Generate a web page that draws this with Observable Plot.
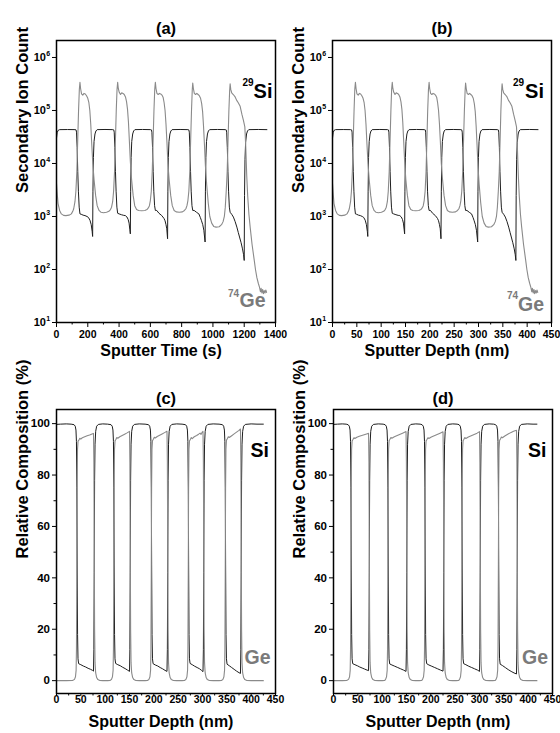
<!DOCTYPE html>
<html><head><meta charset="utf-8">
<script src="https://cdn.jsdelivr.net/npm/d3@7"></script>
<script src="https://cdn.jsdelivr.net/npm/@observablehq/plot@0.6"></script>
<style>
body{margin:0;background:#fff;}
#wrap{position:relative;width:560px;height:733px;overflow:hidden;background:#fff;}
#wrap svg{position:absolute;}
</style></head><body><div id="wrap"></div>
<script>
// ---------- Panel (a)/(b): SIMS raw counts (same counts, time axis and depth axis) ----------
const siTime = [0,4,10,20,70,118,125,128,132,136,140,145,150,158,170,182,195,204,214,222,228,231,233,236,240,246,252,260,310,360,
  366,369,373,377,381,386,391,400,415,430,440,450,458,464,469,472,474,477,481,487,493,501,550,601,
  607,610,614,618,622,627,632,641,655,673,687,694,700,705,710,712,715,719,725,731,739,790,840,
  846,849,853,857,861,866,871,880,895,910,920,927,935,942,950,952,955,959,965,971,979,1030,1079,
  1085,1088,1092,1096,1100,1105,1110,1120,1131,1142,1153,1162,1170,1180,1189,1196,1200,1202,1205,1209,1215,1221,1229,1290,1345];
const siDepth = [0,1.3,3.1,6.3,22.0,37.1,39.3,40.2,41.4,42.7,44.0,45.5,47.1,49.6,53.4,57.1,61.2,64.1,67.2,69.7,71.6,72.5,73.2,74.1,75.4,77.2,79.1,81.6,97.3,113.0,
  114.9,115.9,117.1,118.4,119.6,121.2,122.8,125.6,130.3,135.0,138.2,141.3,143.8,145.7,147.3,148.2,148.8,149.8,151.0,152.9,154.8,157.3,172.7,188.7,
  190.6,191.5,192.8,194.1,195.3,196.9,198.5,201.3,205.7,211.3,215.7,217.9,219.8,221.4,222.9,223.6,224.5,225.8,227.7,229.5,232.1,248.1,263.8,
  265.6,266.6,267.8,269.1,270.4,271.9,273.5,276.3,281.0,285.7,288.9,291.1,293.6,295.8,298.3,298.9,299.9,301.1,303.0,304.9,307.4,323.4,338.8,
  340.7,341.6,342.9,344.1,345.4,347.0,348.5,351.7,355.1,358.6,362.0,364.9,367.4,370.5,373.4,375.5,376.8,377.4,378.4,379.6,381.5,383.4,385.9,405.1,422.3];
const siCount = [3.0e4,3.8e4,4.2e4,4.35e4,4.37e4,4.35e4,4.3e4,3.9e4,2.0e4,7.0e3,3.0e3,1.5e3,1.12e3,1.1e3,1.06e3,1.04e3,1.0e3,960,850,700,520,420,3.0e3,1.3e4,2.6e4,3.6e4,4.1e4,4.35e4,4.38e4,4.35e4,
  4.3e4,3.9e4,2.0e4,7.0e3,3.0e3,1.5e3,1.15e3,1.12e3,1.08e3,1.05e3,1.04e3,980,880,750,560,470,3.0e3,1.3e4,2.6e4,3.6e4,4.1e4,4.35e4,4.38e4,4.35e4,
  4.3e4,3.9e4,2.0e4,7.0e3,3.0e3,1.6e3,1.3e3,1.3e3,1.15e3,1.04e3,920,830,700,585,380,3.0e3,1.3e4,2.6e4,3.6e4,4.1e4,4.35e4,4.38e4,4.35e4,
  4.3e4,3.9e4,2.0e4,7.0e3,3.0e3,1.6e3,1.3e3,1.3e3,1.2e3,1.12e3,950,830,700,550,330,3.0e3,1.3e4,2.6e4,3.6e4,4.1e4,4.35e4,4.38e4,4.35e4,
  4.3e4,3.9e4,2.0e4,7.0e3,3.0e3,1.5e3,1.2e3,1.1e3,975,800,630,500,410,320,245,190,148,2.5e3,1.2e4,2.5e4,3.6e4,4.1e4,4.35e4,4.38e4,4.35e4];

const geTime = [0,5,10,20,31,45,60,80,95,104,110,118,124,130,136,141,146,150,
  154,160,168,176,184,192,200,207,213,219,225,232,240,250,260,272,285,300,320,335,345,352,359,365,371,377,382,387,391,
  395,401,409,417,425,433,441,448,454,460,466,472,480,490,500,512,525,545,565,578,587,594,600,606,612,618,623,628,632,
  636,642,650,658,666,674,682,688,694,700,706,712,720,730,740,752,765,785,805,818,827,834,840,846,852,858,863,868,871,
  875,881,889,897,905,913,921,928,934,940,946,952,960,970,980,992,1005,1020,1040,1055,1065,1073,1079,1085,1091,1097,1102,1107,1110,
  1114,1120,1130,1142,1152,1162,1174,1185,1195,1204,1210,1216,1222,1230,1238,1250,1264,1272,1281,1290,1298,1304,1308,1313,1318,1323,1328,1333,1338,1343];
const geDepth = [0,1.6,3.1,6.3,9.7,14.1,18.8,25.1,29.8,32.7,34.5,37.1,38.9,40.8,42.7,44.3,45.8,47.1,
  48.4,50.2,52.8,55.3,57.8,60.3,62.8,65.0,66.9,68.8,70.7,72.9,75.4,78.5,81.6,85.4,89.5,94.2,100.5,105.2,108.3,110.5,112.7,114.6,116.5,118.4,120.0,121.5,122.8,
  124.0,125.9,128.4,130.9,133.5,136.0,138.5,140.7,142.6,144.4,146.3,148.2,150.7,153.9,157.0,160.8,164.9,171.1,177.4,181.5,184.3,186.5,188.4,190.3,192.2,194.1,195.6,197.2,198.5,
  199.7,201.6,204.1,206.6,209.1,211.6,214.2,216.0,217.9,219.8,221.7,223.6,226.1,229.2,232.4,236.1,240.2,246.5,252.8,256.9,259.7,261.9,263.8,265.6,267.5,269.4,271.0,272.6,273.5,
  274.8,276.6,279.2,281.7,284.2,286.7,289.2,291.4,293.3,295.2,297.0,298.9,301.4,304.6,307.7,311.5,315.6,320.3,326.6,331.3,334.4,336.9,338.8,340.7,342.6,344.5,346.0,347.6,348.5,
  349.8,351.7,354.8,358.6,361.7,364.9,368.6,372.1,375.2,378.1,379.9,381.8,383.7,386.2,388.7,392.5,396.9,399.4,402.2,405.1,407.6,409.5,410.7,412.3,413.9,415.4,417.0,418.6,420.1,421.7];
const geCount = [4.2e3,2.6e3,1.75e3,1.3e3,1.12e3,1.05e3,1.04e3,1.06e3,1.12e3,1.25e3,1.4e3,1.9e3,3.0e3,7.0e3,3.0e4,1.0e5,2.5e5,3.4e5,
  2.6e5,2.05e5,1.95e5,2.1e5,2.05e5,1.9e5,1.7e5,1.4e5,1.0e5,5.5e4,2.4e4,1.0e4,5.0e3,2.5e3,1.6e3,1.3e3,1.2e3,1.18e3,1.2e3,1.25e3,1.35e3,1.5e3,1.9e3,3.0e3,7.0e3,3.0e4,1.0e5,2.5e5,3.4e5,
  2.6e5,2.2e5,2.0e5,2.15e5,2.1e5,2.0e5,1.8e5,1.45e5,1.05e5,6.0e4,2.6e4,1.1e4,5.0e3,2.5e3,1.6e3,1.35e3,1.3e3,1.28e3,1.3e3,1.35e3,1.45e3,1.6e3,2.0e3,3.0e3,7.0e3,3.0e4,1.0e5,2.5e5,3.4e5,
  2.6e5,2.1e5,2.0e5,2.1e5,2.05e5,1.95e5,1.75e5,1.4e5,1.0e5,5.5e4,2.5e4,1.0e4,5.0e3,2.5e3,1.6e3,1.3e3,1.22e3,1.2e3,1.22e3,1.3e3,1.4e3,1.6e3,2.0e3,3.0e3,7.0e3,3.0e4,1.0e5,2.5e5,3.3e5,
  2.6e5,2.1e5,2.0e5,2.1e5,2.0e5,1.9e5,1.7e5,1.35e5,9.5e4,5.0e4,2.2e4,9.0e3,4.0e3,1.8e3,1.0e3,750,650,630,640,700,800,1.0e3,1.5e3,3.0e3,7.0e3,3.0e4,1.0e5,2.4e5,3.2e5,
  2.5e5,2.15e5,2.0e5,1.8e5,1.55e5,1.4e5,1.2e5,8.5e4,6.5e4,4.9e4,2.0e4,6.0e3,2.5e3,1.1e3,630,300,150,100,70,55,46,38,44,36,42,35,40,36,41,37];

// ---------- Panel (c): relative composition, [depth nm, %] ----------
const siCompC = [[0,99.7],[8,99.8],[20,99.9],[30,99.8],[36,99.6],[38.5,99.0],[40,97.5],[41,93],[41.8,75],[42.5,45],[43.3,18],[44.2,8.5],
  [45.5,6.6],[50,6.2],[55,5.7],[60,5.3],[65,4.8],[70,4.4],[74,4.0],[76,3.7],
  [76.8,12],[77.5,42],[78.3,78],[79.2,92],[80.5,97],[82.5,99.0],[86,99.7],[95,99.9],[105,99.8],[112,99.6],[114.5,99.0],[116,97.5],[117,93],[117.8,75],[118.5,45],[119.3,18],[120.2,8.5],
  [121.5,6.7],[126,6.2],[131,5.8],[136,5.2],[141,4.7],[146,4.1],[150,3.6],
  [150.8,12],[151.5,42],[152.3,78],[153.2,92],[154.5,97],[156.5,99.0],[160,99.7],[170,99.9],[182,99.8],[189,99.6],[191.5,99.0],[193,97.5],[194,93],[194.8,75],[195.5,45],[196.3,18],[197.2,8.5],
  [198.5,6.6],[203,6.1],[208,5.7],[213,5.1],[218,4.6],[223,4.0],[227,3.6],
  [227.8,12],[228.5,42],[229.3,78],[230.2,92],[231.5,97],[233.5,99.0],[237,99.7],[247,99.9],[258,99.8],[265,99.6],[267.5,99.0],[269,97.5],[270,93],[270.8,75],[271.5,45],[272.3,18],[273.2,8.5],
  [274.5,6.7],[279,6.2],[284,5.6],[289,5.1],[294,4.6],[298,4.0],[301,3.5],
  [301.8,12],[302.5,42],[303.3,78],[304.2,92],[305.5,97],[307.5,99.0],[311,99.7],[322,99.9],[334,99.8],[341,99.6],[343.5,99.0],[345,97.5],[346,93],[346.8,75],[347.5,45],[348.3,18],[349.2,8.5],
  [350.5,6.4],[355,5.8],[360,5.1],[365,4.4],[370,3.7],[375,3.1],[378,2.8],
  [378.8,12],[379.5,42],[380.3,78],[381.2,92],[382.5,97],[384.5,99.0],[388,99.7],[400,99.9],[412,99.8],[425,99.8]];
const geCompC = [[0,0],[20,0],[33,0.05],[37,0.5],[39,1.5],[40.3,4],[41,12],[41.7,40],[42.4,75],[43.2,90],[44.3,93.2],
  [46,93.6],[48,94.3],[50,94.0],[53,94.5],[58,94.9],[63,95.3],[68,95.6],[73,96.0],[76,96.2],
  [76.8,85],[77.5,55],[78.3,20],[79.2,7],[80.5,3],[82.5,1.2],[85,0.4],[89,0.05],[95,0],[105,0],[110,0.05],[113,0.5],[115,1.5],[116.3,4],[117,12],[117.7,40],[118.4,75],[119.2,90],[120.3,93.3],
  [122,93.8],[124,94.6],[126,94.3],[130,94.9],[135,95.4],[140,95.9],[145,96.4],[150,97.0],
  [150.8,85],[151.5,55],[152.3,20],[153.2,7],[154.5,3],[156.5,1.2],[159,0.4],[163,0.05],[170,0],[182,0],[187,0.05],[190,0.5],[192,1.5],[193.3,4],[194,12],[194.7,40],[195.4,75],[196.2,90],[197.3,93.4],
  [199,93.9],[201,94.7],[203,94.4],[207,95.0],[212,95.5],[217,96.0],[222,96.5],[227,97.0],
  [227.8,85],[228.5,55],[229.3,20],[230.2,7],[231.5,3],[233.5,1.2],[236,0.4],[240,0.05],[247,0],[258,0],[263,0.05],[266,0.5],[268,1.5],[269.3,4],[270,12],[270.7,40],[271.4,75],[272.2,90],[273.3,93.3],
  [275,93.8],[277,94.6],[279,94.2],[283,94.9],[288,95.4],[292,95.9],[295,96.3],[297,95.8],[299,96.6],[301,97.0],
  [301.8,85],[302.5,55],[303.3,20],[304.2,7],[305.5,3],[307.5,1.2],[310,0.4],[314,0.05],[322,0],[334,0],[339,0.05],[342,0.5],[344,1.5],[345.3,4],[346,12],[346.7,40],[347.4,75],[348.2,90],[349.3,93.6],
  [351,94.1],[353,94.9],[355,94.6],[360,95.3],[365,96.0],[370,96.7],[375,97.4],[378,97.9],
  [378.8,85],[379.5,55],[380.3,20],[381.2,7],[382.5,3],[384.5,1.2],[387,0.4],[391,0.05],[400,0],[425,0]];

// ---------- Panel (d): relative composition, [depth nm, %] ----------
const siCompD = [[0,99.7],[8,99.8],[18,99.9],[26,99.8],[30,99.6],[32.5,99.0],[34,97.5],[35,93],[35.8,75],[36.5,45],[37.3,18],[38.2,8.5],
  [39.5,6.6],[44,6.2],[49,5.8],[54,5.3],[59,4.9],[64,4.5],[69,4.1],[72,3.9],
  [72.8,12],[73.5,42],[74.3,78],[75.2,92],[76.5,97],[78.5,99.0],[82,99.7],[92,99.9],[102,99.8],[106,99.6],[108.5,99.0],[110,97.5],[111,93],[111.8,75],[112.5,45],[113.3,18],[114.2,8.5],
  [115.5,6.5],[120,6.1],[126,5.6],[132,5.1],[138,4.6],[144,4.1],[149,3.6],
  [149.8,12],[150.5,42],[151.3,78],[152.2,92],[153.5,97],[155.5,99.0],[159,99.7],[169,99.9],[178,99.8],[182,99.6],[184.5,99.0],[186,97.5],[187,93],[187.8,75],[188.5,45],[189.3,18],[190.2,8.5],
  [191.5,6.6],[196,6.1],[202,5.6],[208,5.1],[214,4.6],[220,4.1],[225,3.7],
  [225.8,12],[226.5,42],[227.3,78],[228.2,92],[229.5,97],[231.5,99.0],[235,99.7],[245,99.9],[254,99.8],[258,99.6],[260.5,99.0],[262,97.5],[263,93],[263.8,75],[264.5,45],[265.3,18],[266.2,8.5],
  [267.5,6.6],[272,6.2],[278,5.6],[284,5.1],[290,4.6],[296,4.1],[300,3.6],
  [300.8,12],[301.5,42],[302.3,78],[303.2,92],[304.5,97],[306.5,99.0],[310,99.7],[320,99.9],[329,99.8],[333,99.6],[335.5,99.0],[337,97.5],[338,93],[338.8,75],[339.5,45],[340.3,18],[341.2,8.5],
  [342.5,6.4],[347,5.9],[353,5.1],[359,4.3],[365,3.6],[371,3.0],[376,2.6],
  [376.8,12],[377.5,42],[378.3,78],[379.2,92],[380.5,97],[382.5,99.0],[386,99.7],[398,99.9],[410,99.8],[418,99.8]];
const geCompD = [[0,0],[18,0],[27,0.05],[31,0.5],[33,1.5],[34.3,4],[35,12],[35.7,40],[36.4,75],[37.2,90],[38.3,93.3],
  [40,93.8],[42,94.5],[44,94.2],[48,94.7],[53,95.1],[58,95.4],[63,95.7],[68,96.0],[72,96.2],
  [72.8,85],[73.5,55],[74.3,20],[75.2,7],[76.5,3],[78.5,1.2],[81,0.4],[85,0.05],[92,0],[100,0],[105,0.05],[107,0.5],[109,1.5],[110.3,4],[111,12],[111.7,40],[112.4,75],[113.2,90],[114.3,93.4],
  [116,93.9],[118,94.6],[120,94.3],[125,94.9],[131,95.4],[137,95.9],[143,96.4],[149,96.9],
  [149.8,85],[150.5,55],[151.3,20],[152.2,7],[153.5,3],[155.5,1.2],[158,0.4],[162,0.05],[169,0],[176,0],[181,0.05],[183,0.5],[185,1.5],[186.3,4],[187,12],[187.7,40],[188.4,75],[189.2,90],[190.3,93.3],
  [192,93.8],[194,94.5],[196,94.2],[201,94.8],[207,95.3],[213,95.8],[219,96.3],[225,96.8],
  [225.8,85],[226.5,55],[227.3,20],[228.2,7],[229.5,3],[231.5,1.2],[234,0.4],[238,0.05],[245,0],[252,0],[257,0.05],[259,0.5],[261,1.5],[262.3,4],[263,12],[263.7,40],[264.4,75],[265.2,90],[266.3,93.4],
  [268,93.9],[270,94.6],[272,94.2],[277,94.8],[283,95.3],[289,95.8],[295,96.3],[300,96.9],
  [300.8,85],[301.5,55],[302.3,20],[303.2,7],[304.5,3],[306.5,1.2],[309,0.4],[313,0.05],[320,0],[327,0],[332,0.05],[334,0.5],[336,1.5],[337.3,4],[338,12],[338.7,40],[339.4,75],[340.2,90],[341.3,93.5],
  [343,94.0],[345,94.8],[347,94.5],[352,95.2],[358,95.9],[364,96.5],[370,97.0],[376,97.4],
  [376.8,85],[377.5,55],[378.3,20],[379.2,7],[380.5,3],[382.5,1.2],[385,0.4],[389,0.05],[398,0],[418,0]];

// ---------- ticks & labels ----------
const timeTicks = [0,200,400,600,800,1000,1200,1400];
const timeMinor = [100,300,500,700,900,1100,1300];
const depthTicks = [0,50,100,150,200,250,300,350,400,450];
const depthMinor = [25,75,125,175,225,275,325,375,425];
const countTicks = [1e1,1e2,1e3,1e4,1e5,1e6];
const countExp = ["1","2","3","4","5","6"];
const compTicks = [0,20,40,60,80,100];
const compMinor = [10,30,50,70,90];

const FONT = "'Liberation Sans',Arial,Helvetica,sans-serif";
const BLACK = "#1e1e1e", GRAY = "#8a8a8a", LABELGRAY = "#7a7a7a";
const wrap = document.getElementById("wrap");

function place(svg, left, top) {
  svg.style.left = left + "px"; svg.style.top = top + "px";
  wrap.appendChild(svg);
}

function panel(cfg) {
  const marks = [
    Plot.line(cfg.si, {x: "x", y: "y", stroke: BLACK, strokeWidth: 1}),
    Plot.line(cfg.ge, {x: "x", y: "y", stroke: GRAY, strokeWidth: 1.1}),
    Plot.axisX({ticks: cfg.xTicks, tickSize: cfg.xTickSize, tickPadding: cfg.xTickPad, tickFormat: d => String(d), label: null, fontSize: 10.5, fontWeight: "bold"}),
    Plot.axisX({ticks: cfg.xMinor, tickSize: 2.5, tickFormat: () => "", label: null}),
    ...cfg.yMarks,
    Plot.frame({stroke: "black", strokeWidth: 1.5}),
    Plot.text([cfg.title], {text: d => d, frameAnchor: "top", dy: cfg.titleDy, fontSize: 16.5, fontWeight: "bold"}),
    Plot.text([cfg.xLabel], {text: d => d, frameAnchor: "bottom", dy: cfg.xLabelDy, dx: -5, fontSize: 16, fontWeight: "bold"}),
    Plot.text([cfg.yLabel], {text: d => d, frameAnchor: "left", rotate: -90, dx: -34, dy: cfg.yLabelDy, fontSize: 16.5, fontWeight: "bold"}),
    ...cfg.ann.map(a => Plot.text([a.t], {text: d => d, frameAnchor: a.anchor, dx: a.dx, dy: a.dy, textAnchor: "end", lineAnchor: "bottom", fontSize: a.size, fontWeight: "bold", fill: a.color}))
  ];
  return Plot.plot({
    width: 280, height: cfg.height,
    marginLeft: 56, marginRight: 5, marginTop: cfg.mt, marginBottom: cfg.mb,
    x: {domain: cfg.xDomain, label: null},
    y: cfg.y,
    style: {background: "transparent", color: "black", fontFamily: FONT, fontWeight: "bold", fontSize: "10.5px", overflow: "visible"},
    marks
  });
}

function logYMarks() {
  return [
    Plot.axisY({ticks: countTicks, tickSize: 4, tickFormat: () => "", label: null}),
    Plot.text(countTicks, {y: d => d, text: () => "10", frameAnchor: "left", dx: -10.5, textAnchor: "end", fontSize: 11, fontWeight: "bold"}),
    Plot.text(countTicks, {y: d => d, text: (d, i) => countExp[i], frameAnchor: "left", dx: -10.3, dy: -4, textAnchor: "start", fontSize: 7, fontWeight: "bold"})
  ];
}
function compYMarks() {
  return [
    Plot.axisY({ticks: compTicks, tickSize: 4, tickPadding: 2.5, tickFormat: d => String(d), label: null, fontSize: 11.5, fontWeight: "bold"}),
    Plot.axisY({ticks: compMinor, tickSize: 2.5, tickFormat: () => "", label: null})
  ];
}

const rowsA_si = siTime.map((t, i) => ({x: t, y: siCount[i]}));
const rowsA_ge = geTime.map((t, i) => ({x: t, y: geCount[i]}));
const rowsB_si = siDepth.map((d, i) => ({x: d, y: siCount[i]}));
const rowsB_ge = geDepth.map((d, i) => ({x: d, y: geCount[i]}));
const rowsC_si = siCompC.map(([x, y]) => ({x, y}));
const rowsC_ge = geCompC.map(([x, y]) => ({x, y}));
const rowsD_si = siCompD.map(([x, y]) => ({x, y}));
const rowsD_ge = geCompD.map(([x, y]) => ({x, y}));

const logY = {type: "log", domain: [10, 2.09e6], label: null};
const compY = {domain: [-5, 105.5], label: null};

function countAnn(siDx, geDx, supSiDx, supGeDx, geDy, supGeDy) {
  return [
    {t: "Si", anchor: "top-right", dx: siDx, dy: 57, size: 20, color: "black"},
    {t: "29", anchor: "top-right", dx: supSiDx, dy: 45, size: 10, color: "black"},
    {t: "Ge", anchor: "bottom-right", dx: geDx, dy: geDy, size: 19.5, color: LABELGRAY},
    {t: "74", anchor: "bottom-right", dx: supGeDx, dy: supGeDy, size: 10, color: LABELGRAY}
  ];
}
function compAnn(siDx, geDx) {
  return [
    {t: "Si", anchor: "top-right", dx: siDx, dy: 47.5, size: 19.5, color: "black"},
    {t: "Ge", anchor: "bottom-right", dx: geDx, dy: -29.5, size: 19.5, color: LABELGRAY}
  ];
}

place(panel({height: 366, mt: 40, mb: 44, xDomain: [0, 1400], xTicks: timeTicks, xMinor: timeMinor, xTickSize: 5, xTickPad: 3,
  y: logY, yMarks: logYMarks(), si: rowsA_si, ge: rowsA_ge, title: "(a)", titleDy: -18.5,
  xLabel: "Sputter Time (s)", xLabelDy: 33.5, yLabel: "Secondary Ion Count", yLabelDy: 11.5,
  ann: countAnn(-3, -10, -22, -36.5, -15.5, -25.5)}), 0, 0);

place(panel({height: 366, mt: 40, mb: 44, xDomain: [0, 450], xTicks: depthTicks, xMinor: depthMinor, xTickSize: 5, xTickPad: 3,
  y: logY, yMarks: logYMarks(), si: rowsB_si, ge: rowsB_ge, title: "(b)", titleDy: -18.5,
  xLabel: "Sputter Depth (nm)", xLabelDy: 33.5, yLabel: "Secondary Ion Count", yLabelDy: 11.5,
  ann: countAnn(-7.5, -7.5, -27.5, -33.5, -12, -23.5)}), 276, 0);

place(panel({height: 367, mt: 43, mb: 40, xDomain: [0, 450], xTicks: depthTicks, xMinor: depthMinor, xTickSize: 3, xTickPad: -0.5,
  y: compY, yMarks: compYMarks(), si: rowsC_si, ge: rowsC_ge, title: "(c)", titleDy: -17.5,
  xLabel: "Sputter Depth (nm)", xLabelDy: 33, yLabel: "Relative Composition (%)", yLabelDy: 7,
  ann: compAnn(-6.5, -5)}), 0, 366);

place(panel({height: 367, mt: 43, mb: 40, xDomain: [0, 450], xTicks: depthTicks, xMinor: depthMinor, xTickSize: 3, xTickPad: -0.5,
  y: compY, yMarks: compYMarks(), si: rowsD_si, ge: rowsD_ge, title: "(d)", titleDy: -17.5,
  xLabel: "Sputter Depth (nm)", xLabelDy: 33, yLabel: "Relative Composition (%)", yLabelDy: 7,
  ann: compAnn(-6, -4.5)}), 277, 366);
</script></body></html>
